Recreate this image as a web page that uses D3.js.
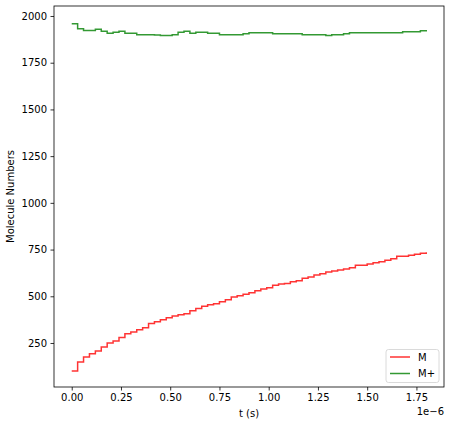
<!DOCTYPE html>
<html>
<head>
<meta charset="utf-8">
<script src="https://cdn.jsdelivr.net/npm/d3@7"></script>
<style>
  html, body { margin: 0; padding: 0; background: #fff; }
  svg { display: block; font-family: "DejaVu Sans", sans-serif; }
</style>
</head>
<body>
<svg id="chart" width="451" height="425"></svg>
<script>
// ---- data ----
const dt = 0.03e-6;
const seriesNames = ["M", "M+"];
const seriesColors = ["red", "green"];
const valuesM = [100, 148, 175, 193, 207, 229, 250, 261, 279, 300,
  309, 321, 332, 355, 364, 375, 385, 394, 401, 407,
  423, 434, 446, 455, 460, 471, 482, 496, 503, 511,
  519, 530, 539, 546, 559, 566, 569, 578, 583, 596,
  603, 614, 621, 630, 635, 641, 646, 653, 666, 666,
  673, 680, 685, 693, 701, 714, 714, 719, 725, 730, 736];
const valuesMplus = [1959, 1932, 1923, 1923, 1929, 1918, 1907, 1913, 1918, 1907,
  1907, 1900, 1900, 1900, 1898, 1895, 1895, 1900, 1913, 1918,
  1907, 1913, 1913, 1907, 1907, 1900, 1900, 1900, 1900, 1905,
  1911, 1911, 1911, 1911, 1905, 1905, 1905, 1905, 1905, 1900,
  1900, 1900, 1900, 1895, 1900, 1900, 1905, 1911, 1911, 1911,
  1911, 1911, 1911, 1911, 1911, 1911, 1916, 1916, 1916, 1921, 1925];
const times = valuesM.map((_, i) => i * dt);
const xTicks = [0, 0.25e-6, 0.5e-6, 0.75e-6, 1.0e-6, 1.25e-6, 1.5e-6, 1.75e-6];
const xTickLabels = ["0.00", "0.25", "0.50", "0.75", "1.00", "1.25", "1.50", "1.75"];
const yTicks = [250, 500, 750, 1000, 1250, 1500, 1750, 2000];

// ---- layout ----
const svg = d3.select("#chart");
const L = 54, R = 444, T = 6, B = 387;
const x = d3.scaleLinear().domain([-0.09e-6, 1.89e-6]).range([L, R]);
const y = d3.scaleLinear().domain([14.5, 2053.5]).range([B, T]);

const series = [valuesM, valuesMplus];

const clipId = "plotclip";
svg.append("clipPath").attr("id", clipId)
  .append("rect").attr("x", L).attr("y", T).attr("width", R - L).attr("height", B - T);

const line = d3.line()
  .x((d, i) => x(times[i]))
  .y(d => y(d))
  .curve(d3.curveStepAfter);

series.forEach((vals, k) => {
  svg.append("path")
    .datum(vals)
    .attr("d", line)
    .attr("fill", "none")
    .attr("stroke", seriesColors[k])
    .attr("stroke-opacity", 0.8)
    .attr("stroke-width", 1.5)
    .attr("clip-path", `url(#${clipId})`);
});

// axes
const xAxis = d3.axisBottom(x).tickValues(xTicks)
  .tickFormat((d, i) => xTickLabels[i]).tickSizeOuter(0).tickSize(3.5).tickPadding(3.5);
const yAxis = d3.axisLeft(y).tickValues(yTicks)
  .tickFormat(d3.format("d")).tickSizeOuter(0).tickSize(3.5).tickPadding(3.5);

const gx = svg.append("g").attr("transform", `translate(0,${B})`).call(xAxis);
const gy = svg.append("g").attr("transform", `translate(${L},0)`).call(yAxis);
[gx, gy].forEach(g => {
  g.select(".domain").remove();
  g.selectAll(".tick line").attr("stroke", "#000").attr("stroke-width", 0.8);
  g.selectAll(".tick text").attr("fill", "#000").attr("font-size", 10)
    .attr("font-family", "DejaVu Sans, sans-serif");
});

// frame
svg.append("rect").attr("x", L).attr("y", T).attr("width", R - L).attr("height", B - T)
  .attr("fill", "none").attr("stroke", "#000").attr("stroke-width", 0.8);

// labels
svg.append("text").attr("x", (L + R) / 2).attr("y", 417)
  .attr("text-anchor", "middle").attr("font-size", 10).text("t (s)");
svg.append("text").attr("x", R).attr("y", 415)
  .attr("text-anchor", "end").attr("font-size", 10).text("1e\u22126");
svg.append("text")
  .attr("transform", `translate(14,${(T + B) / 2}) rotate(-90)`)
  .attr("text-anchor", "middle").attr("font-size", 10).text("Molecule Numbers");

// legend
const lg = svg.append("g");
lg.append("rect").attr("x", 386).attr("y", 349.5).attr("width", 53).attr("height", 33)
  .attr("rx", 2.5).attr("fill", "#fff").attr("fill-opacity", 0.8)
  .attr("stroke", "#d0d0d0").attr("stroke-width", 0.8);
seriesNames.forEach((name, i) => {
  const yy = 357 + i * 16.5;
  lg.append("line").attr("x1", 390).attr("x2", 410).attr("y1", yy).attr("y2", yy)
    .attr("stroke", seriesColors[i]).attr("stroke-opacity", 0.8).attr("stroke-width", 1.5);
  lg.append("text").attr("x", 418).attr("y", yy + 3.5).attr("font-size", 10).text(name);
});
</script>
</body>
</html>
